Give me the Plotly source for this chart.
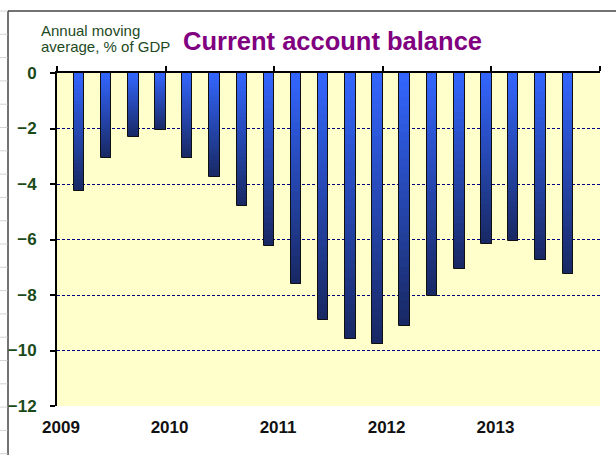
import plotly.graph_objects as go

# ---- data ----
dates = ["2008-12-15",
         "2009-03-15", "2009-06-15", "2009-09-15", "2009-12-15",
         "2010-03-15", "2010-06-15", "2010-09-15", "2010-12-15",
         "2011-03-15", "2011-06-15", "2011-09-15", "2011-12-15",
         "2012-03-15", "2012-06-15", "2012-09-15", "2012-12-15",
         "2013-03-15", "2013-06-15", "2013-09-15"]
balance = [-5.4,
           -4.25, -3.05, -2.3, -2.05,
           -3.05, -3.75, -4.8, -6.25,
           -7.6, -8.9, -9.6, -9.75,
           -9.1, -8.05, -7.05, -6.15,
           -6.05, -6.75, -7.25]
year_ticks = ["2009-01-01", "2010-01-01", "2011-01-01", "2012-01-01", "2013-01-01"]
year_labels = ["2009", "2010", "2011", "2012", "2013"]
top_ticks = year_ticks + ["2014-01-01"]
y_ticks = [0, -2, -4, -6, -8, -10, -12]
title_text = "Current account balance"
subtitle_lines = ["Annual moving", "average, % of GDP"]

# ---- geometry ----
W, H = 616, 455
ML, MR, MT, MB = 57, 16, 73, 49
PW, PH = W - ML - MR, H - MT - MB


def px2paper_x(px):
    return (px - ML) / PW


def px2paper_y(py):
    return 1 - (py - MT) / PH


BAR_W = 35 * 86400000  # ms
TOP = (0x33, 0x66, 0xFF)
BOT = (0x18, 0x28, 0x62)


def mix(t):
    c = [round(TOP[i] + (BOT[i] - TOP[i]) * t) for i in range(3)]
    return "rgb(%d,%d,%d)" % tuple(c)


fig = go.Figure()

# gradient bars: nested bars from 0, longest (darkest) first
N = 30
for k in range(N):
    frac = (N - k) / N
    t = (N - k - 0.5) / N
    fig.add_trace(go.Bar(
        x=dates, y=[v * frac for v in balance], width=[BAR_W] * len(dates),
        marker=dict(color=mix(t), line=dict(width=0)),
        hoverinfo="skip", showlegend=False))

# outline
fig.add_trace(go.Bar(
    x=dates, y=balance, width=[BAR_W] * len(dates), xaxis="x2",
    marker=dict(color="rgba(0,0,0,0)", line=dict(color="#101010", width=1)),
    hoverinfo="skip", showlegend=False))

shapes = []
# outer chart frame
shapes.append(dict(type="line", xref="paper", yref="paper", layer="above",
                   x0=px2paper_x(8), x1=px2paper_x(W + 2), y0=px2paper_y(11), y1=px2paper_y(11),
                   line=dict(color="#444444", width=1.5)))
shapes.append(dict(type="line", xref="paper", yref="paper", layer="above",
                   x0=px2paper_x(8), x1=px2paper_x(8), y0=px2paper_y(11), y1=px2paper_y(H + 2),
                   line=dict(color="#444444", width=1.5)))
# faint spreadsheet lines at the far left
yy = 11.0
while yy < H:
    shapes.append(dict(type="line", xref="paper", yref="paper",
                       x0=px2paper_x(0), x1=px2paper_x(7.5), y0=px2paper_y(yy), y1=px2paper_y(yy),
                       line=dict(color="#d4d4d4", width=1)))
    yy += 23.3

sub_font = dict(family="Liberation Sans, Arial", size=15, color="#1e4a1e")
annotations = [
    dict(text=subtitle_lines[0], xref="paper", yref="paper",
         x=px2paper_x(39), y=px2paper_y(31), xanchor="left", yanchor="middle",
         showarrow=False, font=sub_font),
    dict(text=subtitle_lines[1], xref="paper", yref="paper",
         x=px2paper_x(39), y=px2paper_y(47), xanchor="left", yanchor="middle",
         showarrow=False, font=sub_font),
    dict(text=title_text, xref="paper", yref="paper",
         x=px2paper_x(181), y=px2paper_y(41), xanchor="left", yanchor="middle",
         showarrow=False,
         font=dict(family="Liberation Sans, Arial", size=25.5, color="#800080", weight="bold")),
]

fig.update_layout(
    width=W, height=H,
    margin=dict(l=ML, r=MR, t=MT, b=MB, pad=0, autoexpand=False),
    paper_bgcolor="white", plot_bgcolor="#FFFFCC",
    barmode="overlay", bargap=0,
    showlegend=False,
    font=dict(family="Liberation Sans, Arial"),
    shapes=shapes, annotations=annotations,
    xaxis=dict(type="date", range=["2009-01-01", "2014-01-01"],
               tickmode="array", tickvals=year_ticks, ticktext=year_labels,
               ticks="", showline=False, showgrid=False, zeroline=False,
               ticklabelshift=4, ticklabelstandoff=9, automargin=False,
               tickfont=dict(family="Liberation Sans, Arial", size=17, color="#111111", weight="bold")),
    xaxis2=dict(type="date", overlaying="x", matches="x", side="top", anchor="y",
                tickmode="array", tickvals=top_ticks,
                ticks="outside", ticklen=5, tickwidth=1.5, tickcolor="black",
                showline=True, linecolor="black", linewidth=2, automargin=False,
                showticklabels=False, showgrid=False, zeroline=False),
    yaxis=dict(range=[-12, 0], tickmode="array", tickvals=y_ticks,
               ticks="outside", ticklen=5, tickwidth=1.5, tickcolor="black",
               showline=True, linecolor="black", linewidth=2,
               showgrid=True, gridcolor="#000080", gridwidth=1, griddash="3px,2px",
               zeroline=False, ticklabelstandoff=10, automargin=False,
               tickfont=dict(family="Liberation Sans, Arial", size=17, color="#1a4a1a", weight="bold")),
)

fig.write_html("out.html", config={"displayModeBar": False},
               post_script="document.body.style.margin='0';document.body.style.padding='0';")
